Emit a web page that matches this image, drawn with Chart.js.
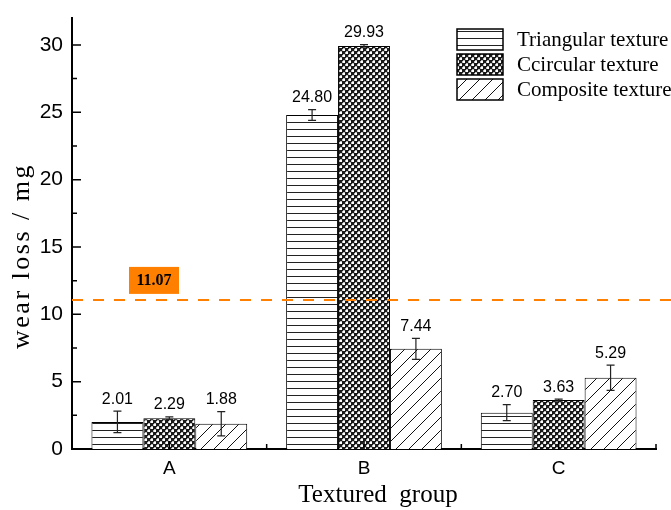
<!DOCTYPE html>
<html>
<head>
<meta charset="utf-8">
<script src="https://cdn.jsdelivr.net/npm/chart.js@4"></script>
<style>
html,body{margin:0;padding:0;background:#fff;}
#wrap{width:671px;height:510px;}
</style>
</head>
<body>
<div id="wrap"><canvas id="c" width="671" height="510"></canvas></div>
<script>
// ---- data ----
const categories = ['A', 'B', 'C'];
const seriesNames = ['Triangular texture', 'Ccircular texture', 'Composite texture'];
const triangular = [2.01, 24.80, 2.70];
const circular = [2.29, 29.93, 3.63];
const composite = [1.88, 7.44, 5.29];
const triangularErr = [0.80, 0.40, 0.60];
const circularErr = [0.10, 0.10, 0.07];
const compositeErr = [0.90, 0.78, 0.93];
const yTicks = [0, 5, 10, 15, 20, 25, 30];
const yMinorTicks = [2.5, 7.5, 12.5, 17.5, 22.5, 27.5];
const refValue = 11.07;

// ---- patterns ----
const ctx0 = document.getElementById('c').getContext('2d');
const patH = (function(){
  const c = document.createElement('canvas'); c.width = 8; c.height = 7;
  const g = c.getContext('2d'); g.fillStyle = '#fff'; g.fillRect(0,0,8,7);
  g.fillStyle = '#222'; g.fillRect(0, 3, 8, 1);
  return ctx0.createPattern(c, 'repeat');
})();
const patX = (function(){
  const c = document.createElement('canvas'); c.width = 6; c.height = 6;
  const g = c.getContext('2d'); g.fillStyle = '#1a1a1a'; g.fillRect(0,0,6,6);
  g.fillStyle = '#fff';
  g.fillRect(1,1,2,2); g.fillRect(4,4,2,2);
  g.fillStyle = '#bbb';
  g.fillRect(0,1,1,2); g.fillRect(1,0,2,1); g.fillRect(3,4,1,2); g.fillRect(4,3,2,1);
  return ctx0.createPattern(c, 'repeat');
})();
const patD = (function(){
  const c = document.createElement('canvas'); c.width = 13; c.height = 13;
  const g = c.getContext('2d'); g.fillStyle = '#fff'; g.fillRect(0,0,13,13);
  g.strokeStyle = '#111'; g.lineWidth = 1;
  g.beginPath();
  g.moveTo(-1, 14); g.lineTo(14, -1);
  g.moveTo(-14, 14); g.lineTo(1, -1);
  g.moveTo(12, 14); g.lineTo(27, -1);
  g.stroke();
  return ctx0.createPattern(c, 'repeat');
})();

const errs = [triangularErr, circularErr, compositeErr];

const overlay = {
  id: 'overlay',
  afterDatasetsDraw(chart) {
    const ctx = chart.ctx;
    const ys = chart.scales.y, xs = chart.scales.x;
    const area = chart.chartArea;
    ctx.save();
    // error bars and value labels
    chart.data.datasets.forEach((ds, di) => {
      const meta = chart.getDatasetMeta(di);
      meta.data.forEach((el, i) => {
        const v = ds.data[i], e = errs[di][i];
        const yt = ys.getPixelForValue(v + e), yb = ys.getPixelForValue(v - e);
        ctx.strokeStyle = '#222'; ctx.lineWidth = 1.2;
        ctx.beginPath();
        ctx.moveTo(el.x, yt); ctx.lineTo(el.x, yb);
        ctx.moveTo(el.x - 4, yt); ctx.lineTo(el.x + 4, yt);
        ctx.moveTo(el.x - 4, yb); ctx.lineTo(el.x + 4, yb);
        ctx.stroke();
        ctx.fillStyle = '#000';
        ctx.font = '16px "Liberation Sans", Arial, sans-serif';
        ctx.textAlign = 'center'; ctx.textBaseline = 'bottom';
        ctx.fillText(v.toFixed(2), el.x, yt - 4);
      });
    });
    // y ticks (inward)
    ctx.strokeStyle = '#000'; ctx.lineWidth = 1.5;
    ctx.beginPath();
    yTicks.forEach(t => { const y = ys.getPixelForValue(t); ctx.moveTo(area.left, y); ctx.lineTo(area.left + 9, y); });
    yMinorTicks.forEach(t => { const y = ys.getPixelForValue(t); ctx.moveTo(area.left, y); ctx.lineTo(area.left + 5, y); });
    // x ticks
    categories.forEach((c, i) => {
      const x = xs.getPixelForValue(i);
      ctx.moveTo(x, area.bottom); ctx.lineTo(x, area.bottom - 8);
      const half = (xs.getPixelForValue(1) - xs.getPixelForValue(0)) / 2;
      ctx.moveTo(x + half, area.bottom); ctx.lineTo(x + half, area.bottom - 5);
    });
    ctx.stroke();
    // reference line
    const ry = ys.getPixelForValue(refValue);
    ctx.strokeStyle = '#FF8000'; ctx.lineWidth = 2; ctx.setLineDash([11, 10]);
    ctx.beginPath(); ctx.moveTo(area.left, ry); ctx.lineTo(chart.width, ry); ctx.stroke();
    ctx.setLineDash([]);
    ctx.fillStyle = '#FF8000';
    ctx.fillRect(area.left + 57, ry - 33, 50, 27);
    ctx.fillStyle = '#000';
    ctx.font = 'bold 16px "Liberation Serif", "Times New Roman", serif';
    ctx.textAlign = 'center'; ctx.textBaseline = 'middle';
    ctx.fillText(refValue.toFixed(2), area.left + 82, ry - 19);
    // axis titles
    ctx.font = '25px "Liberation Serif", "Times New Roman", serif';
    ctx.fillText('Textured  group', (area.left + area.right) / 2 + 14, 495);
    ctx.save();
    ctx.translate(22, 256); ctx.rotate(-Math.PI / 2);
    ctx.font = '26px "Liberation Serif", "Times New Roman", serif';
    ctx.letterSpacing = '2.5px';
    ctx.fillText('wear loss / mg', 0, 0);
    ctx.letterSpacing = '0px';
    ctx.restore();
    // legend
    const pats = [patH, patX, patD];
    ctx.font = '21px "Liberation Serif", "Times New Roman", serif';
    ctx.textAlign = 'left';
    seriesNames.forEach((n, i) => {
      const by = 29 + i * 25;
      ctx.fillStyle = pats[i];
      ctx.fillRect(457, by, 46, 21);
      ctx.strokeStyle = '#000'; ctx.lineWidth = 1.5;
      ctx.strokeRect(457, by, 46, 21);
      ctx.fillStyle = '#000';
      ctx.fillText(n, 517, by + 11);
    });
    ctx.restore();
  }
};

new Chart(document.getElementById('c'), {
  type: 'bar',
  data: {
    labels: categories,
    datasets: [
      { label: seriesNames[0], data: triangular, backgroundColor: patH, borderColor: '#000', borderWidth: 1 },
      { label: seriesNames[1], data: circular, backgroundColor: patX, borderColor: '#000', borderWidth: 1 },
      { label: seriesNames[2], data: composite, backgroundColor: patD, borderColor: '#000', borderWidth: 1 }
    ]
  },
  options: {
    responsive: false,
    animation: false,
    layout: { padding: { top: 18, right: 15, left: 0, bottom: 0 } },
    datasets: { bar: { categoryPercentage: 0.8, barPercentage: 1.0 } },
    plugins: { legend: { display: false }, tooltip: { enabled: false } },
    scales: {
      x: {
        grid: { display: false, drawTicks: false },
        border: { display: true, color: '#000', width: 2 },
        ticks: { color: '#000', padding: 8, font: { family: '"Liberation Sans", Arial, sans-serif', size: 19 } },
        afterFit(s) { s.height = 61; s.paddingLeft = 0; s.paddingRight = 0; }
      },
      y: {
        min: 0, max: 32,
        grid: { display: false, drawTicks: false },
        border: { display: true, color: '#000', width: 2 },
        afterBuildTicks(s) { s.ticks = yTicks.map(v => ({ value: v })); },
        ticks: { color: '#000', padding: 9, font: { family: '"Liberation Sans", Arial, sans-serif', size: 21 } },
        afterFit(s) { s.width = 72; s.paddingTop = 0; s.paddingBottom = 0; }
      }
    }
  },
  plugins: [overlay]
});
</script>
</body>
</html>
